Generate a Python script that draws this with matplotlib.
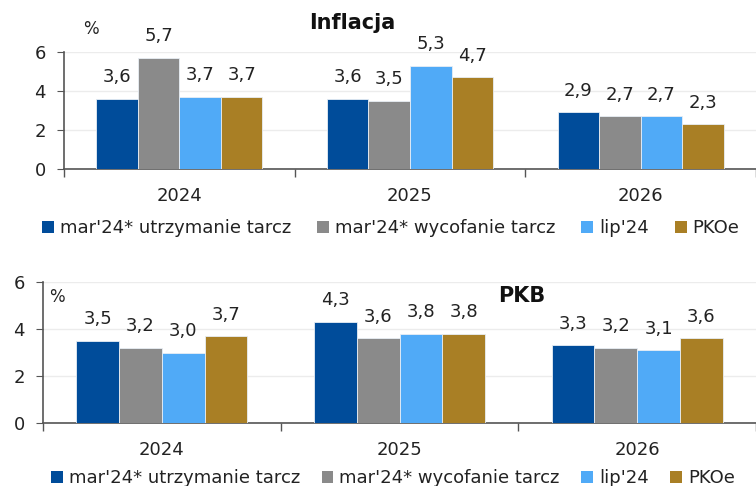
import matplotlib
matplotlib.use("Agg")
import matplotlib.pyplot as plt
import numpy as np
from matplotlib.patches import Patch

plt.rcParams['font.family'] = ['DejaVu Sans']

years = ["2024", "2025", "2026"]
series = ["mar'24* utrzymanie tarcz", "mar'24* wycofanie tarcz", "lip'24", "PKOe"]
colors = ["#004C9A", "#8A8A8A", "#50AAF7", "#A97F25"]

infl_values = [
    [3.6, 3.6, 2.9],
    [5.7, 3.5, 2.7],
    [3.7, 5.3, 2.7],
    [3.7, 4.7, 2.3],
]
pkb_values = [
    [3.5, 4.3, 3.3],
    [3.2, 3.6, 3.2],
    [3.0, 3.8, 3.1],
    [3.7, 3.8, 3.6],
]
yticks = [0, 2, 4, 6]

fig = plt.figure(figsize=(7.56, 4.86), dpi=100)
ax1 = fig.add_axes([64/756, 1-169/486, 1-64/756, (169-52)/486])
ax2 = fig.add_axes([43/756, 1-423/486, 1-43/756, (423-282)/486])


def draw(ax, values, title, title_xy, pct_xy):
    n = len(series)
    width = 0.72 / n
    x = np.arange(len(years)) + 0.5
    for i, (name, vals, c) in enumerate(zip(series, values, colors)):
        pos = x - 0.36 + width * (i + 0.5)
        bars = ax.bar(pos, vals, width, color=c, edgecolor='#e8eef5', linewidth=0.6, zorder=3, label=name)
        for b, v in zip(bars, vals):
            ax.annotate(f"{v:.1f}".replace('.', ','), (b.get_x() + b.get_width()/2, v),
                        xytext=(0, 9), textcoords='offset points', ha='center', va='bottom',
                        fontsize=13, color='#222222')
    ax.set_xlim(0, len(years))
    ax.set_ylim(0, 6)
    ax.set_yticks(yticks)
    ax.set_xticks(np.arange(len(years) + 1))
    ax.set_xticklabels([])
    ax.set_xticks(x, minor=True)
    ax.set_xticklabels(years, minor=True)
    ax.tick_params(axis='x', which='minor', length=0, pad=13, labelsize=13, labelcolor='#222222')
    ax.tick_params(axis='x', which='major', length=6, color='#555555', width=1)
    ax.tick_params(axis='y', length=5, color='#555555', labelsize=13, labelcolor='#222222', pad=8)
    ax.grid(axis='y', color='#ececec', linewidth=1, zorder=0)
    for s in ['top', 'right']:
        ax.spines[s].set_visible(False)
    for s in ['left', 'bottom']:
        ax.spines[s].set_color('#555555')
        ax.spines[s].set_linewidth(1.2)
    ax.spines['left'].set_bounds(0, 6)
    fig.text(title_xy[0]/756, 1-title_xy[1]/486, title, ha='center', va='center',
             fontsize=15, fontweight='bold', color='#111111')
    fig.text(pct_xy[0]/756, 1-pct_xy[1]/486, '%', ha='center', va='center',
             fontsize=12, color='#222222')


draw(ax1, infl_values, "Inflacja", (352, 23), (91, 29))
draw(ax2, pkb_values, "PKB", (522, 296), (57, 297))

handles = [Patch(facecolor=c, edgecolor='none') for c in colors]
for xl, ycen, cs in ((42, 228, 1.45), (51, 478, 1.2)):
    fig.legend(handles, series, loc='center left', bbox_to_anchor=(xl/756, 1-ycen/486),
               ncol=4, frameon=False, fontsize=13, handlelength=0.65, handleheight=0.65,
               handletextpad=0.33, columnspacing=cs, borderaxespad=0, borderpad=0,
               labelcolor='#222222')

fig.savefig("out.png", dpi=100)
